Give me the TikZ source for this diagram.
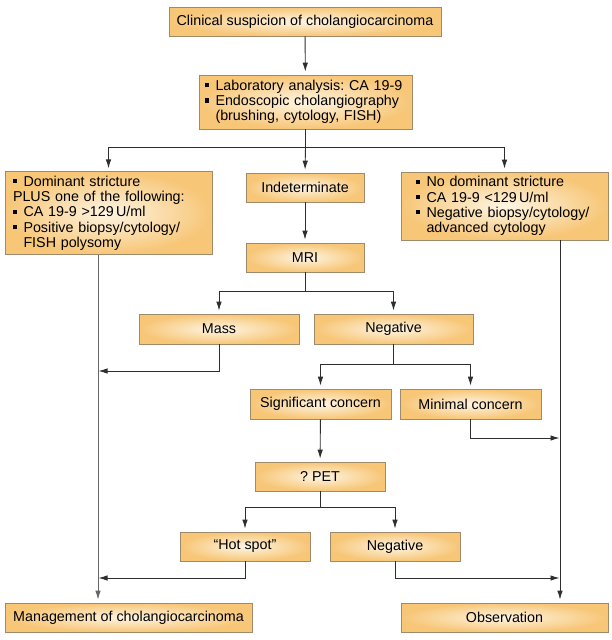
\documentclass[tikz,border=0pt]{standalone}
\usepackage{fontspec}
\setmainfont{Liberation Sans}
\usetikzlibrary{arrows.meta}

\definecolor{boxedge}{HTML}{F7C677}
\definecolor{boxmid}{HTML}{FEF5E3}
\definecolor{boxline}{HTML}{A08A6C}
\definecolor{linkgray}{HTML}{2E2E2E}

\newcommand{\bul}{\makebox[10.5pt][l]{\rule[3pt]{4.2pt}{4.2pt}}}
\newcommand{\ind}{\hspace*{10.5pt}}

\begin{document}
\frenchspacing
\begin{tikzpicture}[x=1pt,y=-1pt]
  \tikzset{
    flowbox/.style={draw=boxline, line width=0.7pt, inner color=boxmid, outer color=boxedge,
      font=\fontsize{14.3}{15.3}\selectfont, minimum height=29pt, inner sep=0pt},
    listbox/.style={flowbox, align=left, inner xsep=9pt, inner ysep=4pt},
    link/.style={draw=linkgray, line width=0.9pt},
    arr/.style={link, -{Latex[length=9pt,width=5.5pt]}, shorten >=3pt}
  }
  \useasboundingbox (0,0) rectangle (612,640);

  % boxes
  \node[flowbox, minimum width=272pt] (clin) at (305,21.5) {Clinical suspicion of cholangiocarcinoma};
  \node[listbox, text width=201pt, inner xsep=6pt, minimum height=54pt] (lab) at (305.5,102)
    {\bul Laboratory analysis: CA~19-9\\ \bul Endoscopic cholangiography\\ \ind (brushing, cytology, FISH)};
  \node[listbox, text width=191pt, inner xsep=8pt, minimum height=82pt] (dom) at (108.5,213)
    {\bul Dominant stricture\\ PLUS one of the following:\\ \bul CA 19-9 >129\,U/ml\\
     \bul Positive biopsy/cytology/\\ \ind FISH polysomy};
  \node[flowbox, minimum width=118pt] (indet) at (305,187.5) {Indeterminate};
  \node[listbox, text width=177pt, inner xsep=15pt, minimum height=68pt] (nodom) at (504.5,206)
    {\bul No dominant stricture\\ \bul CA 19-9 <129\,U/ml\\ \bul Negative biopsy/cytology/\\ \ind advanced cytology};
  \node[flowbox, minimum width=118pt] (mri) at (305,257.5) {MRI};
  \node[flowbox, minimum width=160pt, minimum height=30pt] (mass) at (219,329) {Mass};
  \node[flowbox, minimum width=159pt, minimum height=30pt] (neg1) at (393.5,329) {Negative};
  \node[flowbox, minimum width=141pt, minimum height=30pt] (sig) at (320.5,404) {Significant concern};
  \node[flowbox, minimum width=141pt, minimum height=30pt] (mini) at (470.5,404) {Minimal concern};
  \node[flowbox, minimum width=130pt] (pet) at (320,476.5) {? PET};
  \node[flowbox, minimum width=130pt] (hot) at (245,546.5) {``Hot spot''};
  \node[flowbox, minimum width=130pt] (neg2) at (395,546.5) {Negative};
  \node[flowbox, minimum width=247pt] (mgmt) at (128.5,617.5) {Management of cholangiocarcinoma};
  \node[flowbox, minimum width=207pt] (obs) at (504.5,617.5) {Observation};

  \coordinate (lline) at (98,0);
  \coordinate (rline) at (560,0);

  % connectors
  \draw[arr] (clin) -- (lab);
  \draw[link] (lab.south) -- ++(0,18) coordinate (b1);
  \draw[arr] (b1) -| (dom.north);
  \draw[arr] (b1) -- (indet.north);
  \draw[arr] (b1) -| (nodom.north);
  \draw[arr] (indet) -- (mri);
  \draw[link] (mri.south) -- ++(0,19) coordinate (b2);
  \draw[arr] (b2) -| (mass.north);
  \draw[arr] (b2) -| (neg1.north);
  \draw[arr, shorten >=0.5pt] (mass.south) |- (lline |- 0,371);
  \draw[link] (neg1.south) -- ++(0,20) coordinate (b3);
  \draw[arr] (b3) -| (sig.north);
  \draw[arr] (b3) -| (mini.north);
  \draw[arr, shorten >=0.5pt] (mini.south) |- (rline |- 0,438);
  \draw[arr] (sig) -- (pet);
  \draw[link] (pet.south) -- ++(0,16) coordinate (b4);
  \draw[arr] (b4) -| (hot.north);
  \draw[arr] (b4) -| (neg2.north);
  \draw[arr, shorten >=0.5pt] (hot.south) |- (lline |- 0,578);
  \draw[arr, shorten >=0.5pt] (neg2.south) |- (rline |- 0,578);
  \draw[arr, draw=gray!80!black] (dom.south -| lline) -- (mgmt.north -| lline);
  \draw[arr] (nodom.south -| rline) -- (obs.north -| rline);
\end{tikzpicture}
\end{document}
